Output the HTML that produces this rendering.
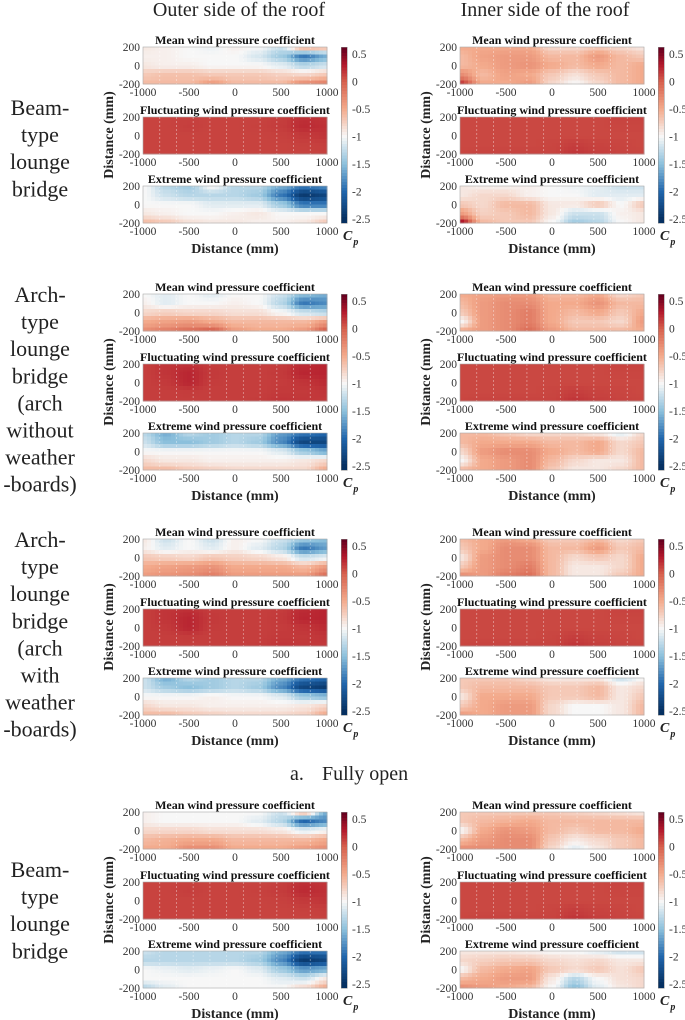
<!DOCTYPE html>
<html><head><meta charset="utf-8"><style>
html,body{margin:0;padding:0;background:#fff;}
svg{display:block;}
svg text{font-family:"Liberation Serif","Times New Roman",serif;}
</style></head><body>
<svg id="fig" width="685" height="1020" viewBox="0 0 685 1020" xmlns="http://www.w3.org/2000/svg" font-family="Liberation Serif, serif">
<text x="239" y="16" font-size="20" text-anchor="middle" fill="#222">Outer side of the roof</text>
<text x="545" y="16" font-size="20" text-anchor="middle" fill="#222">Inner side of the roof</text>
<text x="290" y="780" font-size="20" fill="#222">a.<tspan x="322">Fully open</tspan></text>
</svg>
<script>
const xCats = [-1000,-750,-500,-250,0,250,500,750,1000];
const yCats = [200,100,0,-100,-200];
const xTicks = ["-1000","-500","0","500","1000"];
const xTickVals = [-1000,-500,0,500,1000];
const yTicks = ["200","0","-200"];
const yTickVals = [200,0,-200];
const cbTicks = ["0.5","0","-0.5","-1","-1.5","-2","-2.5"];
const cbTickVals = [0.5,0,-0.5,-1,-1.5,-2,-2.5];
const plotTitles = ["Mean wind pressure coefficient","Fluctuating wind pressure coefficient","Extreme wind pressure coefficient"];
const rowLabels = [["Beam-","type","lounge","bridge"],["Arch-","type","lounge","bridge","(arch","without","weather","-boards)"],["Arch-","type","lounge","bridge","(arch","with","weather","-boards)"],["Beam-","type","lounge","bridge"]];

const fl = [[0.12,0.12,0.13,0.12,0.12,0.12,0.14,0.2,0.18],[0.12,0.12,0.14,0.12,0.12,0.13,0.15,0.22,0.2],[0.12,0.12,0.12,0.12,0.12,0.12,0.13,0.16,0.18],[0.12,0.12,0.12,0.12,0.12,0.12,0.12,0.13,0.14],[0.12,0.12,0.12,0.12,0.12,0.12,0.12,0.12,0.13]];
const flIn = [[0.1,0.1,0.1,0.1,0.1,0.1,0.1,0.12,0.12],[0.1,0.1,0.1,0.1,0.1,0.1,0.1,0.11,0.11],[0.1,0.1,0.1,0.1,0.1,0.1,0.1,0.1,0.1],[0.1,0.1,0.1,0.1,0.11,0.14,0.12,0.11,0.1],[0.11,0.12,0.12,0.12,0.12,0.18,0.14,0.12,0.11]];
const flArch = [[0.14,0.18,0.2,0.15,0.14,0.14,0.15,0.22,0.25],[0.14,0.18,0.24,0.16,0.14,0.14,0.16,0.24,0.25],[0.14,0.16,0.24,0.15,0.14,0.14,0.15,0.18,0.22],[0.14,0.14,0.15,0.14,0.14,0.14,0.16,0.16,0.18],[0.14,0.14,0.14,0.14,0.14,0.15,0.18,0.17,0.16]];

const b1OuterMean = [[-0.9,-0.95,-1.0,-1.05,-0.95,-1.0,-1.2,-0.5,-0.6],[-0.95,-0.95,-1.0,-1.0,-1.0,-1.15,-1.4,-1.9,-1.6],[-0.9,-0.95,-0.95,-1.0,-1.0,-1.0,-1.1,-1.3,-1.2],[-0.7,-0.65,-0.65,-0.7,-0.7,-0.7,-0.75,-0.8,-0.7],[-0.6,-0.6,-0.6,-0.4,-0.6,-0.6,-0.6,-0.3,-0.2]];
const b1OuterExt = [[-1,-1.3,-1.4,-1.0,-1.3,-1.3,-1.6,-1.9,-1.8],[-1,-1.2,-1.3,-1.3,-1.3,-1.4,-1.9,-2.4,-2.3],[-1,-1.0,-1.0,-1.1,-1.1,-1.1,-1.4,-1.9,-1.9],[-0.9,-0.95,-1.0,-1.0,-0.95,-0.9,-1.0,-1.0,-1.0],[-0.6,-0.7,-0.85,-0.9,-0.9,-0.95,-0.95,-0.9,-0.7]];
const b1InnerMean = [[-0.5,-0.5,-0.5,-0.5,-0.8,-0.8,-0.7,-0.8,-0.9],[-0.6,-0.45,-0.4,-0.4,-0.6,-0.6,-0.4,-0.6,-0.7],[-0.6,-0.5,-0.4,-0.35,-0.5,-0.6,-0.5,-0.6,-0.5],[-0.3,-0.6,-0.45,-0.5,-0.7,-0.85,-0.7,-0.6,-0.5],[0.2,-0.5,-0.5,-0.4,-0.8,-1.0,-0.8,-0.6,-0.5]];
const b1InnerExt = [[-0.9,-0.95,-0.95,-0.95,-1.0,-1.05,-1.1,-1.2,-1.2],[-0.9,-0.8,-0.8,-0.95,-1.0,-1.0,-1.1,-1.1,-1.1],[-0.7,-0.8,-0.6,-0.6,-0.9,-0.9,-0.7,-1.0,-0.7],[-0.4,-0.75,-0.7,-0.6,-0.9,-1.2,-1.2,-0.95,-0.9],[0.4,-0.6,-0.7,-0.7,-1.0,-1.4,-1.3,-1.0,-0.9]];
const b2OuterMean = [[-1.0,-1.1,-1.0,-1.1,-1.0,-1.0,-1.2,-1.5,-1.6],[-0.95,-1.1,-1.0,-1.0,-0.95,-1.0,-1.3,-1.9,-1.8],[-0.8,-0.75,-0.8,-0.8,-0.85,-0.85,-1.0,-1.2,-1.3],[-0.5,-0.45,-0.4,-0.5,-0.6,-0.6,-0.6,-0.6,-0.4],[-0.3,-0.2,-0.1,0.0,-0.4,-0.5,-0.5,-0.4,0.0]];
const b2OuterExt = [[-1.3,-1.6,-1.3,-1.4,-1.3,-1.3,-1.7,-1.9,-2.0],[-1.2,-1.5,-1.5,-1.4,-1.3,-1.4,-1.8,-2.3,-2.3],[-1.0,-1.0,-1.0,-1.0,-1.0,-1.0,-1.1,-1.4,-1.6],[-0.8,-0.9,-0.9,-0.95,-0.95,-0.95,-0.95,-0.9,-0.8],[-0.6,-0.6,-0.7,-0.75,-0.8,-0.8,-0.8,-0.8,-0.5]];
const b2InnerMean = [[-0.5,-0.45,-0.4,-0.4,-0.6,-0.6,-0.5,-0.8,-0.7],[-0.6,-0.4,-0.3,-0.3,-0.5,-0.5,-0.35,-0.6,-0.6],[-0.7,-0.4,-0.3,-0.2,-0.5,-0.6,-0.5,-0.7,-0.5],[-1.0,-0.4,-0.3,-0.2,-0.5,-0.7,-0.7,-0.8,-0.4],[-0.5,-0.4,-0.3,-0.1,-0.4,-0.6,-0.6,-0.6,-0.5]];
const b2InnerExt = [[-0.6,-0.6,-0.7,-0.8,-0.8,-0.8,-0.9,-1.1,-0.8],[-0.6,-0.5,-0.5,-0.5,-0.6,-0.6,-0.5,-0.8,-0.7],[-0.8,-0.4,-0.3,-0.3,-0.5,-0.6,-0.5,-0.8,-0.6],[-1.0,-0.5,-0.4,-0.3,-0.6,-0.8,-0.9,-0.9,-0.6],[-0.6,-0.5,-0.4,-0.3,-0.7,-0.9,-0.9,-0.8,-0.6]];
const b3OuterMean = [[-0.9,-1.2,-1.0,-1.2,-0.95,-1.0,-1.2,-1.4,-1.5],[-0.95,-1.1,-1.0,-1.1,-0.95,-1.1,-1.3,-1.9,-1.7],[-0.7,-0.75,-0.8,-0.7,-0.75,-0.8,-0.9,-1.2,-1.1],[-0.5,-0.45,-0.4,-0.35,-0.5,-0.5,-0.5,-0.6,-0.4],[-0.4,-0.35,-0.3,-0.2,-0.4,-0.4,-0.4,-0.4,-0.1]];
const b3OuterExt = [[-1.2,-1.6,-1.3,-1.4,-1.3,-1.3,-1.6,-1.9,-2.0],[-1.2,-1.4,-1.5,-1.4,-1.3,-1.4,-1.8,-2.3,-2.4],[-1.0,-1.0,-1.0,-0.95,-1.0,-1.0,-1.1,-1.4,-1.5],[-0.8,-0.9,-0.9,-0.95,-0.95,-0.95,-0.95,-0.9,-0.8],[-0.6,-0.6,-0.7,-0.75,-0.8,-0.8,-0.8,-0.75,-0.5]];
const b3InnerMean = [[-0.6,-0.5,-0.4,-0.5,-0.7,-0.7,-0.6,-0.8,-0.7],[-0.7,-0.5,-0.3,-0.3,-0.6,-0.6,-0.4,-0.7,-0.6],[-0.9,-0.4,-0.3,-0.3,-0.6,-0.8,-0.7,-0.8,-0.5],[-0.7,-0.4,-0.3,-0.2,-0.6,-0.9,-0.9,-0.8,-0.5],[-0.3,-0.4,-0.2,-0.1,-0.6,-0.9,-0.9,-0.7,-0.5]];
const b3InnerExt = [[-0.7,-0.7,-0.7,-0.8,-0.9,-0.9,-0.9,-1.2,-1.0],[-0.7,-0.6,-0.6,-0.6,-0.7,-0.7,-0.6,-0.9,-0.8],[-0.9,-0.5,-0.5,-0.5,-0.7,-0.7,-0.6,-0.9,-0.7],[-0.7,-0.5,-0.4,-0.4,-0.8,-1.0,-1.0,-0.9,-0.6],[-0.4,-0.5,-0.4,-0.4,-0.8,-1.0,-1.0,-0.9,-0.6]];
const b4OuterMean = [[-0.95,-1.0,-1.0,-1.0,-1.0,-1.0,-1.2,-0.6,-1.6],[-0.95,-1.0,-1.0,-1.0,-1.0,-1.1,-1.3,-2.0,-1.8],[-0.8,-0.8,-0.8,-0.85,-0.85,-0.85,-0.9,-1.1,-1.0],[-0.6,-0.55,-0.5,-0.5,-0.6,-0.6,-0.6,-0.6,-0.5],[-0.5,-0.5,-0.3,-0.3,-0.5,-0.5,-0.5,-0.4,-0.3]];
const b4OuterExt = [[-1.2,-1.3,-1.3,-1.3,-1.3,-1.3,-1.6,-1.9,-1.9],[-1.3,-1.3,-1.3,-1.3,-1.3,-1.4,-1.8,-2.4,-2.3],[-1.0,-1.05,-1.1,-1.05,-1.0,-1.1,-1.4,-1.7,-1.6],[-1.0,-1.0,-1.0,-1.0,-1.0,-1.0,-1.1,-1.2,-0.9],[-1.3,-1.1,-1.0,-1.0,-1.0,-1.0,-1.0,-0.8,-0.5]];
const b4InnerMean = [[-0.7,-0.7,-0.7,-0.7,-0.7,-0.75,-0.8,-0.85,-0.9],[-0.7,-0.6,-0.55,-0.5,-0.6,-0.6,-0.6,-0.6,-0.6],[-1.0,-0.5,-0.35,-0.4,-0.6,-0.7,-0.6,-0.6,-0.5],[-0.6,-0.4,-0.3,-0.3,-0.7,-0.9,-0.8,-0.7,-0.6],[-0.3,-0.3,-0.3,-0.3,-0.8,-1.1,-0.9,-0.7,-0.6]];
const b4InnerExt = [[-0.9,-0.9,-0.9,-0.95,-1.0,-1.0,-1.1,-1.2,-1.2],[-0.8,-0.75,-0.7,-0.7,-0.8,-0.85,-0.8,-0.9,-0.9],[-1.0,-0.6,-0.5,-0.45,-0.7,-0.8,-0.7,-0.85,-0.7],[-0.6,-0.5,-0.4,-0.4,-0.9,-1.3,-1.0,-0.85,-0.8],[-0.3,-0.4,-0.5,-0.6,-1.0,-1.5,-1.1,-0.9,-0.8]];

const panels = [
 [[b1OuterMean,fl,b1OuterExt],[b1InnerMean,flIn,b1InnerExt]],
 [[b2OuterMean,flArch,b2OuterExt],[b2InnerMean,flIn,b2InnerExt]],
 [[b3OuterMean,flArch,b3OuterExt],[b3InnerMean,flIn,b3InnerExt]],
 [[b4OuterMean,fl,b4OuterExt],[b4InnerMean,flIn,b4InnerExt]]
];

const NS="http://www.w3.org/2000/svg";
const FF="Liberation Serif, serif";
const svg=document.getElementById('fig');
const blockOff=[0,247,492,765];
const sideX=[143,460];
const plotTopRel=[47,117,186];
const PW=184, PH=37;
const cmStops=[[-2.5,[5,48,97]],[-2.0,[33,102,172]],[-1.5,[140,192,220]],[-1.0,[247,247,247]],[-0.5,[243,170,140]],[0,[214,96,77]],[0.3,[178,24,43]],[0.6,[103,0,31]]];
function cmap(v){
  if(v<=cmStops[0][0]) return rgb(cmStops[0][1]);
  for(let i=1;i<cmStops.length;i++){
    if(v<=cmStops[i][0]){const a=cmStops[i-1],b=cmStops[i];const t=(v-a[0])/(b[0]-a[0]);
      return rgb(a[1].map((c,k)=>c+(b[1][k]-c)*t));}
  }
  return rgb(cmStops[cmStops.length-1][1]);
}
function rgb(c){return 'rgb('+c.map(x=>Math.round(x)).join(',')+')';}
function mk(tag,attrs,parent){const e=document.createElementNS(NS,tag);for(const k in attrs)e.setAttribute(k,attrs[k]);if(tag==='text')e.setAttribute('font-family',FF);(parent||svg).appendChild(e);return e;}
function sx(x0,v){return x0+(v+1000)/2000*PW;}
function sy(y0,v){return y0+(200-v)/400*PH;}
function sample(g,xv,yv){
  let ci=(xv+1000)/250, ri=(200-yv)/100;
  let c0=Math.min(Math.floor(ci),7), r0=Math.min(Math.floor(ri),3);
  const tx=ci-c0, ty=ri-r0;
  const a=g[r0][c0],b=g[r0][c0+1],c=g[r0+1][c0],d=g[r0+1][c0+1];
  const s=tx*tx*(3-2*tx), u=ty*ty*(3-2*ty);
  return (a*(1-s)+b*s)*(1-u)+(c*(1-s)+d*s)*u;
}
const NX=46, NY=10;
panels.forEach((blk,bi)=>{
  const off=blockOff[bi];
  const lines=rowLabels[bi];
  const lt=mk('text',{x:40,'font-size':22,'text-anchor':'middle',fill:'#222'});
  
  
  const firstY = bi===0?115:(bi===1?302:(bi===2?547:877));
  lines.forEach((ln,li)=>{const ts=mk('tspan',{x:40,y:firstY+li*27.1},lt);ts.textContent=ln;});
  blk.forEach((side,si)=>{
    const x0=sideX[si];
    const g=mk('g',{});
    
    
    side.forEach((grid,pi)=>{
      const y0=off+plotTopRel[pi];
      const pg=mk('g',{'shape-rendering':'crispEdges'},g);
      
      
      for(let j=0;j<NY;j++)for(let i=0;i<NX;i++){
        const xa=-1000+2000*i/NX, xb=-1000+2000*(i+1)/NX;
        const ya=200-400*j/NY, yb=200-400*(j+1)/NY;
        const v=sample(grid,(xa+xb)/2,(ya+yb)/2);
        const r=mk('rect',{x:sx(x0,xa).toFixed(2),y:sy(y0,ya).toFixed(2),width:(sx(x0,xb)-sx(x0,xa)+0.6).toFixed(2),height:(sy(y0,yb)-sy(y0,ya)+0.6).toFixed(2),fill:cmap(v)},pg);
        
        
      }
      for(let k=1;k<11;k++){
        const xx=x0+k*PW/11;
        const l=mk('line',{x1:xx,x2:xx,y1:y0,y2:y0+PH,stroke:'#fff','stroke-opacity':0.45,'stroke-width':0.8,'stroke-dasharray':'2,2'},g);
        
        
      }
      const fr=mk('rect',{x:x0,y:y0,width:PW,height:PH,fill:'none',stroke:'#aaa','stroke-width':0.6},g);
      
      
      const t=mk('text',{x:x0+PW/2,y:y0-3,'font-size':12,'font-weight':'bold','text-anchor':'middle',fill:'#111'},g);
      
      
      t.textContent=plotTitles[pi];
      yTickVals.forEach((v,k)=>{
        const tt=mk('text',{x:x0-3,y:sy(y0,v)+4,'font-size':11.5,'text-anchor':'end',fill:'#333'},g);
        
        
        tt.textContent=yTicks[k];
      });
      xTickVals.forEach((v,k)=>{
        const tt=mk('text',{x:sx(x0,v),y:y0+PH+12,'font-size':11.5,'text-anchor':'middle',fill:'#333'},g);
        
        
        tt.textContent=xTicks[k];
      });
    });
    const yl=mk('text',{x:0,y:0,'font-size':14,'font-weight':'bold','text-anchor':'middle',fill:'#222',transform:'translate('+(x0-30)+','+(off+135)+') rotate(-90)'},g);
    
    
    yl.textContent='Distance (mm)';
    const xl=mk('text',{x:x0+PW/2,y:off+253,'font-size':14,'font-weight':'bold','text-anchor':'middle',fill:'#222'},g);
    
    
    xl.textContent='Distance (mm)';
    const cx=x0+198, cy0=off+47, cy1=off+223;
    const vTop=0.63, vBot=-2.57;
    const cb=mk('g',{'shape-rendering':'crispEdges'},g);
    
    
    const N=60;
    for(let k=0;k<N;k++){
      const v=vTop-(vTop-vBot)*(k+0.5)/N;
      mk('rect',{x:cx,y:(cy0+(cy1-cy0)*k/N).toFixed(2),width:6,height:((cy1-cy0)/N+0.6).toFixed(2),fill:cmap(v)},cb);
    }
    mk('rect',{x:cx,y:cy0,width:6,height:cy1-cy0,fill:'none',stroke:'#888','stroke-width':0.5},cb);
    cbTickVals.forEach((v,k)=>{
      const yy=cy0+(vTop-v)/(vTop-vBot)*(cy1-cy0);
      const tt=mk('text',{x:cx+11,y:yy+4,'font-size':11.5,fill:'#333'},g);
      
      
      tt.textContent=cbTicks[k];
    });
    const cp=mk('text',{x:cx+2,y:off+240,'font-size':14,'font-weight':'bold','font-style':'italic',fill:'#222'},g);
    
    
    const c1=mk('tspan',{},cp);c1.textContent='C';
    const c2=mk('tspan',{dx:1,dy:5,'font-size':10},cp);c2.textContent='p';
  });
});
</script>
</body></html>
